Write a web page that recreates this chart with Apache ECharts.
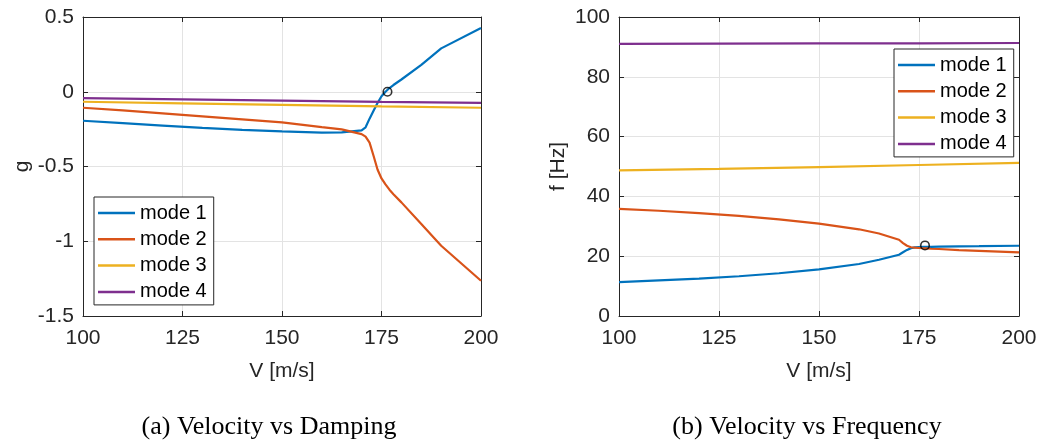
<!DOCTYPE html>
<html>
<head>
<meta charset="utf-8">
<script src="https://cdn.jsdelivr.net/npm/echarts@6/dist/echarts.min.js"></script>
<style>
  html, body { margin: 0; padding: 0; background: #fff; }
  #chart { width: 1045px; height: 442px; }
</style>
</head>
<body>
<div id="chart"></div>
<script>
// velocity grid for modes 1 and 2 (refined around the flutter point)
const V = [100, 110, 120, 130, 140, 150, 160, 165, 170, 171, 172, 173, 174, 175, 176, 177, 178, 180, 185, 190, 200];
// damping g
const gMode1 = [-0.194, -0.21, -0.226, -0.242, -0.255, -0.265, -0.273, -0.272, -0.258, -0.238, -0.18, -0.127, -0.075, -0.03, 0.0, 0.025, 0.045, 0.082, 0.18, 0.29, 0.426];
const gMode2 = [-0.107, -0.125, -0.145, -0.165, -0.185, -0.205, -0.237, -0.252, -0.283, -0.3, -0.34, -0.428, -0.52, -0.58, -0.62, -0.655, -0.685, -0.74, -0.885, -1.03, -1.264];
// frequency f [Hz]
const fMode1 = [11.3, 11.9, 12.5, 13.3, 14.3, 15.6, 17.4, 18.8, 20.5, 21.3, 22.1, 22.7, 22.95, 23.05, 23.1, 23.1, 23.15, 23.2, 23.3, 23.35, 23.5];
const fMode2 = [35.8, 35.2, 34.4, 33.5, 32.3, 30.9, 29.0, 27.6, 25.5, 24.4, 23.5, 23.0, 22.85, 22.75, 22.65, 22.6, 22.5, 22.4, 22.0, 21.8, 21.3];

// modes 3 and 4 are almost straight
const V34 = [100, 125, 150, 175, 200];
const gMode3 = [-0.067, -0.078, -0.088, -0.098, -0.107];
const gMode4 = [-0.042, -0.051, -0.06, -0.068, -0.075];
const fMode3 = [48.7, 49.2, 49.8, 50.5, 51.2];
const fMode4 = [91.0, 91.1, 91.15, 91.2, 91.3];

// flutter point
const flutterV = 176.5;
const flutterG = 0;
const flutterF = 23.6;

const modeNames = ['mode 1', 'mode 2', 'mode 3', 'mode 4'];
const modeColors = ['#0072BD', '#D95319', '#EDB120', '#7E2F8E'];

const xTicks = { min: 100, max: 200, interval: 25 };
const gTicks = { min: -1.5, max: 0.5, interval: 0.5 };
const fTicks = { min: 0, max: 100, interval: 20 };

const FONT = 'Liberation Sans, Arial, Helvetica, sans-serif';
const INK = '#262626';

function pairs(xs, ys) {
    return xs.map((x, i) => [x, ys[i]]);
}

function lineSeries(name, color, xs, ys, idx) {
    return {
        name: name,
        type: 'line',
        xAxisIndex: idx,
        yAxisIndex: idx,
        data: pairs(xs, ys),
        symbol: 'none',
        showSymbol: false,
        smooth: false,
        lineStyle: { color: color, width: 2.2 },
        itemStyle: { color: color },
        animation: false
    };
}

function mainXAxis(gridIndex) {
    return {
        type: 'value', gridIndex: gridIndex,
        min: xTicks.min, max: xTicks.max, interval: xTicks.interval,
        name: 'V [m/s]', nameLocation: 'middle', nameGap: 45,
        nameTextStyle: { color: INK, fontSize: 21, fontFamily: FONT },
        axisLine: { show: true, onZero: false, lineStyle: { color: INK, width: 1 } },
        axisTick: { show: true, inside: true, length: 5, lineStyle: { color: INK } },
        axisLabel: { color: INK, fontSize: 21, fontFamily: FONT, margin: 12 },
        splitLine: { show: true, lineStyle: { color: '#e3e3e3', width: 1 } }
    };
}

function boxXAxis(gridIndex) {
    return {
        type: 'value', gridIndex: gridIndex, position: 'top',
        min: xTicks.min, max: xTicks.max, interval: xTicks.interval,
        axisLine: { show: true, onZero: false, lineStyle: { color: INK, width: 1 } },
        axisTick: { show: true, inside: true, length: 5, lineStyle: { color: INK } },
        axisLabel: { show: false },
        splitLine: { show: false }
    };
}

function mainYAxis(gridIndex, ticks, name) {
    return {
        type: 'value', gridIndex: gridIndex,
        min: ticks.min, max: ticks.max, interval: ticks.interval,
        name: name, nameLocation: 'middle', nameGap: 50, nameRotate: 90,
        nameTextStyle: { color: INK, fontSize: 21, fontFamily: FONT },
        axisLine: { show: true, onZero: false, lineStyle: { color: INK, width: 1 } },
        axisTick: { show: true, inside: true, length: 5, lineStyle: { color: INK } },
        axisLabel: { color: INK, fontSize: 21, fontFamily: FONT, margin: 9 },
        splitLine: { show: true, lineStyle: { color: '#e3e3e3', width: 1 } }
    };
}

function boxYAxis(gridIndex, ticks) {
    return {
        type: 'value', gridIndex: gridIndex, position: 'right',
        min: ticks.min, max: ticks.max, interval: ticks.interval,
        axisLine: { show: true, onZero: false, lineStyle: { color: INK, width: 1 } },
        axisTick: { show: true, inside: true, length: 5, lineStyle: { color: INK } },
        axisLabel: { show: false },
        splitLine: { show: false }
    };
}

function legendAt(left, top) {
    return {
        data: modeNames.map(n => ({ name: n, icon: 'rect' })),
        orient: 'vertical',
        left: left, top: top,
        backgroundColor: '#fff',
        borderColor: INK, borderWidth: 1, borderRadius: 0,
        padding: [6, 7, 3, 4],
        itemWidth: 37, itemHeight: 2.5, itemGap: 6.3, itemTextGap: 3,
        selectedMode: false,
        textStyle: { color: '#000', fontSize: 20, fontFamily: FONT, lineHeight: 20 }
    };
}

const series = [];
const gData = [gMode1, gMode2, gMode3, gMode4];
const fData = [fMode1, fMode2, fMode3, fMode4];
modeNames.forEach((name, i) => {
    const xs = i < 2 ? V : V34;
    series.push(lineSeries(name, modeColors[i], xs, gData[i], 0));
});
modeNames.forEach((name, i) => {
    const xs = i < 2 ? V : V34;
    series.push(lineSeries(name, modeColors[i], xs, fData[i], 1));
});
[[flutterG, 0], [flutterF, 1]].forEach(([y, idx]) => {
    series.push({
        name: 'flutter', type: 'scatter',
        xAxisIndex: idx, yAxisIndex: idx,
        data: [[flutterV, y]],
        symbol: 'circle', symbolSize: 8.5,
        itemStyle: { color: 'rgba(0,0,0,0)', borderColor: '#000', borderWidth: 1.6 },
        z: 5, animation: false
    });
});

const chart = echarts.init(document.getElementById('chart'), null, { renderer: 'canvas' });
chart.setOption({
    backgroundColor: '#fff',
    animation: false,
    grid: [
        { left: 83, top: 17, width: 398, height: 299 },
        { left: 619, top: 17, width: 400, height: 299 }
    ],
    xAxis: [mainXAxis(0), mainXAxis(1), boxXAxis(0), boxXAxis(1)],
    yAxis: [mainYAxis(0, gTicks, 'g'), mainYAxis(1, fTicks, 'f [Hz]'), boxYAxis(0, gTicks), boxYAxis(1, fTicks)],
    legend: [legendAt(94, 197), legendAt(894, 49)],
    graphic: [
        { type: 'text', x: 269, y: 427, style: { text: '(a) Velocity vs Damping', font: '26px "Liberation Serif", "Times New Roman", serif', fill: '#000', textAlign: 'center', textVerticalAlign: 'middle' } },
        { type: 'text', x: 807, y: 427, style: { text: '(b) Velocity vs Frequency', font: '26px "Liberation Serif", "Times New Roman", serif', fill: '#000', textAlign: 'center', textVerticalAlign: 'middle' } }
    ],
    series: series
});
</script>
</body>
</html>
